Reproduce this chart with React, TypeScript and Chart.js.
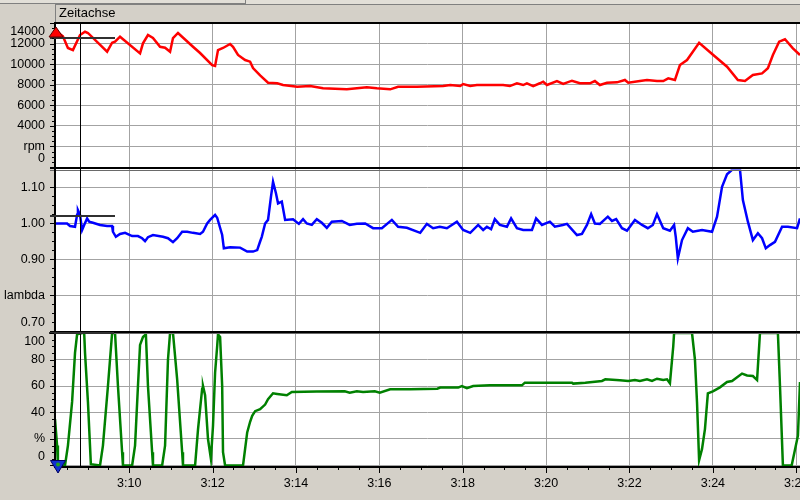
import React, { useEffect, useRef } from "react";
import { Chart, registerables } from "chart.js";

Chart.register(...registerables);

// ---------- data ----------
const X_MIN = 8.22;
const X_MAX = 26.09;
const timeTicks = [10, 12, 14, 16, 18, 20, 22, 24, 26];
const timeLabels = ["3:10", "3:12", "3:14", "3:16", "3:18", "3:20", "3:22", "3:24", "3:26"];

const rpmTime = [8.22, 8.41, 8.53, 8.65, 8.82, 8.94, 9.01, 9.47, 9.59, 9.66, 9.78, 10.26, 10.33, 10.45, 10.57, 10.74, 10.86, 10.98, 11.05, 11.17, 11.53, 11.7, 11.99, 12.06, 12.13, 12.25, 12.42, 12.49, 12.61, 12.78, 12.9, 12.97, 13.14, 13.33, 13.55, 13.69, 14.03, 14.34, 14.65, 15.22, 15.7, 15.94, 16.26, 16.45, 16.9, 17.53, 17.7, 17.94, 18.01, 18.18, 18.34, 18.66, 18.97, 19.13, 19.3, 19.45, 19.54, 19.69, 19.85, 19.93, 20.02, 20.26, 20.41, 20.62, 20.81, 21.05, 21.17, 21.29, 21.46, 21.7, 21.89, 21.97, 22.25, 22.42, 22.66, 22.81, 22.93, 23.09, 23.21, 23.38, 23.67, 24.01, 24.34, 24.6, 24.77, 24.96, 25.18, 25.32, 25.44, 25.59, 25.73, 25.92, 26.09];
const rpmValues = [13300, 12700, 11570, 11370, 12830, 13150, 13030, 11210, 12080, 12180, 12670, 11050, 12020, 12830, 12540, 11690, 11600, 11210, 12540, 13030, 11690, 11080, 9910, 9820, 11370, 11570, 11960, 11690, 10890, 10400, 10240, 9620, 8900, 8190, 8140, 7970, 7800, 7870, 7650, 7550, 7750, 7650, 7550, 7800, 7800, 7870, 7970, 7870, 8070, 7870, 7970, 7970, 7970, 7870, 8140, 7970, 8140, 7870, 8140, 8290, 7970, 8360, 8070, 8390, 8140, 8140, 8360, 7970, 8190, 8230, 8460, 8190, 8360, 8460, 8360, 8360, 8620, 8460, 9910, 10400, 12080, 10890, 9750, 8460, 8360, 8940, 9100, 9600, 10890, 12180, 12420, 11540, 10890];

const lambdaTime = [8.22, 8.51, 8.58, 8.7, 8.75, 8.77, 8.82, 8.87, 8.92, 8.99, 9.04, 9.13, 9.3, 9.47, 9.59, 9.61, 9.68, 9.78, 9.9, 10.07, 10.21, 10.31, 10.38, 10.45, 10.57, 10.81, 10.93, 11.05, 11.15, 11.27, 11.39, 11.53, 11.7, 11.77, 11.87, 11.94, 12.06, 12.11, 12.23, 12.27, 12.42, 12.66, 12.83, 12.97, 13.07, 13.14, 13.18, 13.26, 13.33, 13.4, 13.45, 13.52, 13.57, 13.66, 13.74, 13.93, 14.07, 14.17, 14.26, 14.38, 14.5, 14.62, 14.74, 14.86, 15.1, 15.29, 15.46, 15.66, 15.85, 16.06, 16.3, 16.45, 16.66, 16.98, 17.14, 17.29, 17.45, 17.62, 17.86, 18.01, 18.18, 18.37, 18.49, 18.58, 18.68, 18.77, 18.89, 19.06, 19.16, 19.3, 19.45, 19.66, 19.76, 19.9, 20.09, 20.21, 20.4, 20.5, 20.74, 20.86, 20.98, 21.08, 21.17, 21.29, 21.48, 21.58, 21.68, 21.82, 21.94, 22.13, 22.3, 22.44, 22.56, 22.66, 22.81, 22.97, 23.07, 23.11, 23.16, 23.26, 23.4, 23.52, 23.74, 23.98, 24.1, 24.22, 24.34, 24.46, 24.65, 24.72, 24.84, 24.96, 25.08, 25.18, 25.27, 25.37, 25.49, 25.66, 25.8, 26.02, 26.09];
const lambdaValues = [1.0, 1.0, 0.993, 0.991, 1.024, 1.037, 1.024, 0.982, 0.996, 1.014, 1.005, 1.002, 0.996, 0.993, 0.993, 0.977, 0.963, 0.971, 0.974, 0.965, 0.965, 0.959, 0.951, 0.962, 0.968, 0.963, 0.959, 0.948, 0.959, 0.977, 0.977, 0.974, 0.971, 0.977, 1.0, 1.01, 1.024, 1.016, 0.968, 0.931, 0.934, 0.933, 0.922, 0.922, 0.926, 0.95, 0.963, 1.0, 1.01, 1.074, 1.116, 1.084, 1.056, 1.061, 1.01, 1.012, 0.999, 1.012, 1.0, 0.996, 1.012, 1.002, 0.988, 1.005, 1.007, 0.996, 0.999, 1.0, 0.987, 0.987, 1.01, 0.991, 0.988, 0.974, 0.999, 0.987, 0.991, 0.987, 1.005, 0.982, 0.974, 0.996, 0.982, 0.991, 0.984, 1.012, 0.996, 0.991, 1.014, 0.987, 0.982, 0.982, 1.014, 0.996, 1.005, 0.991, 0.996, 0.999, 0.968, 0.971, 0.996, 1.026, 1.0, 0.999, 1.019, 1.007, 1.012, 0.987, 0.98, 1.01, 0.996, 0.987, 0.996, 1.026, 0.987, 0.98, 0.996, 0.963, 0.903, 0.954, 0.987, 0.977, 0.982, 0.977, 1.019, 1.102, 1.137, 1.149, 1.15, 1.065, 1.005, 0.954, 0.973, 0.959, 0.931, 0.94, 0.949, 0.991, 0.991, 0.987, 1.014];

const pctTime = [8.22, 8.27, 8.29, 8.46, 8.53, 8.63, 8.7, 8.75, 8.87, 8.92, 8.94, 9.01, 9.08, 9.3, 9.37, 9.49, 9.59, 9.66, 9.73, 9.83, 9.85, 10.07, 10.14, 10.21, 10.26, 10.33, 10.4, 10.45, 10.55, 10.57, 10.79, 10.86, 10.93, 10.98, 11.05, 11.15, 11.27, 11.29, 11.58, 11.65, 11.75, 11.77, 11.82, 11.89, 11.96, 12.01, 12.06, 12.11, 12.13, 12.18, 12.23, 12.25, 12.3, 12.73, 12.83, 12.9, 12.95, 13.02, 13.14, 13.26, 13.33, 13.45, 13.55, 13.78, 13.9, 14.5, 15.17, 15.29, 15.46, 15.61, 15.89, 16.01, 16.26, 16.74, 17.39, 17.46, 17.89, 17.98, 18.1, 18.25, 18.65, 19.42, 19.49, 20.09, 20.62, 20.65, 20.94, 21.34, 21.42, 21.77, 21.97, 22.13, 22.25, 22.42, 22.54, 22.66, 22.81, 22.9, 22.97, 23.05, 23.07, 23.5, 23.57, 23.62, 23.67, 23.74, 23.81, 23.88, 24.0, 24.17, 24.34, 24.46, 24.7, 24.82, 24.96, 25.06, 25.13, 25.56, 25.61, 25.68, 25.89, 26.04, 26.09];
const pctValues = [35, 15, 0, 0, 15, 48, 85, 99, 100, 100, 85, 48, 1, 0, 15, 60, 100, 100, 60, 10, 0, 0, 15, 60, 91, 97, 99, 60, 10, 0, 0, 15, 80, 100, 100, 65, 10, 0, 0, 27, 58, 60, 53, 20, 5, 30, 70, 90, 99, 97, 60, 10, 0, 0, 25, 33, 37.5, 41, 42.5, 46, 50, 54.5, 54, 53, 55.5, 55.8, 56, 55, 56, 55.5, 56, 55, 57.5, 57.5, 58, 58.8, 58.8, 60, 58.3, 60, 60.5, 60.5, 62.5, 62.5, 62.5, 61.8, 62.5, 63.8, 65, 64.3, 63.8, 64.5, 63.8, 65, 63.8, 65.5, 64.5, 65, 62, 90, 100, 100, 80, 47.5, 4, 12.5, 27.5, 54.5, 56, 59, 63, 63.8, 69.4, 68, 67.5, 64.5, 100, 100, 60, 0, 0, 22.5, 63];

const rpmTicks = [0, 2000, 4000, 6000, 8000, 10000, 12000, 14000];
const rpmTickLabels = ["0", "rpm", "4000", "6000", "8000", "10000", "12000", "14000"];
const lambdaTicks = [0.7, 0.8, 0.9, 1.0, 1.1];
const lambdaTickLabels = ["0.70", "lambda", "0.90", "1.00", "1.10"];
const pctTicks = [0, 20, 40, 60, 80, 100];
const pctTickLabels = ["0", "%", "40", "60", "80", "100"];

const cursorTime = 8.82;
const cursorRpm = 12570;
const cursorLambda = 1.021;
const cursorPct = 100;

const headerTitle = "Zeitachse";

// ---------- helpers ----------
const FONT = '12.5px "Liberation Sans", Arial, sans-serif';
const HEADER_FONT = '13px "Liberation Sans", Arial, sans-serif';
const zip = (xs: number[], ys: number[]) => xs.map((x, i) => ({ x, y: ys[i] }));

const yScale = (
  min: number,
  max: number,
  ticks: number[],
  stackWeight: number,
  weight: number
) => ({
  type: "linear" as const,
  position: "left" as const,
  stack: "panels",
  stackWeight,
  weight,
  min,
  max,
  afterBuildTicks: (scale: any) => {
    scale.ticks = ticks.map((v) => ({ value: v }));
  },
  afterFit: (scale: any) => {
    scale.width = 55;
  },
  grid: { color: "#a3a3a3", lineWidth: 1, drawTicks: false },
  border: { display: false },
  ticks: { display: false },
});

const decorPlugin = {
  id: "decor",
  beforeDraw(chart: any) {
    const { ctx, chartArea: ca, width, height } = chart;
    ctx.save();
    ctx.fillStyle = "#d4d0c8";
    ctx.fillRect(0, 0, width, height);
    ctx.fillStyle = "#ffffff";
    ctx.fillRect(ca.left, ca.top, ca.right - ca.left, ca.bottom - ca.top);
    // header bar
    ctx.fillStyle = "#e2dfd8";
    ctx.fillRect(0, 0, width, 4);
    ctx.fillStyle = "#808080";
    ctx.fillRect(0, 3, 246, 1);
    ctx.fillRect(245, 0, 1, 4);
    ctx.fillRect(55, 4, width - 55, 1);
    ctx.fillRect(55, 4, 1, 19);
    ctx.fillStyle = "#000";
    ctx.font = HEADER_FONT;
    ctx.textAlign = "left";
    ctx.textBaseline = "middle";
    ctx.fillText(headerTitle, 59, 13.5);
    ctx.restore();
  },
  afterDraw(chart: any) {
    const { ctx, chartArea: ca, scales } = chart;
    const x = scales.x;
    const y1 = scales.yRpm;
    const y2 = scales.yLambda;
    const y3 = scales.yPct;
    ctx.save();

    // panel borders
    ctx.fillStyle = "#000";
    ctx.fillRect(54, 22, ca.right - 54, 2);
    ctx.fillRect(50, 167, ca.right - 50, 2);
    ctx.fillStyle = "#6a6a6a";
    ctx.fillRect(50, 170, ca.right - 50, 1);
    ctx.fillStyle = "#000";
    ctx.fillRect(50, 331, ca.right - 50, 2);
    ctx.fillStyle = "#6a6a6a";
    ctx.fillRect(50, 333, ca.right - 50, 1);

    // y axis line
    ctx.fillStyle = "#000";
    ctx.fillRect(54, 23, 2, ca.bottom - 23);
    // x axis line
    ctx.fillRect(54, ca.bottom, ca.right - 54, 2);

    // cursor
    const cx = Math.round(x.getPixelForValue(cursorTime));
    ctx.fillStyle = "#000";
    ctx.fillRect(cx, 23, 1, ca.bottom - 23);
    ctx.fillStyle = "#303030";
    ctx.fillRect(50, Math.round(y1.getPixelForValue(cursorRpm)) - 1, 65, 2);
    ctx.fillRect(50, Math.round(y2.getPixelForValue(cursorLambda)) - 1, 65, 2);
    ctx.fillRect(49, Math.round(y3.getPixelForValue(cursorPct)) - 1, 65, 2);

    // y ticks + labels
    ctx.font = FONT;
    ctx.textAlign = "right";
    ctx.textBaseline = "middle";
    const drawAxis = (
      scale: any,
      ticks: number[],
      labels: string[],
      top: number,
      bottom: number
    ) => {
      const step = ticks[1] - ticks[0];
      const minor = step / 4;
      ctx.fillStyle = "#000";
      for (let v = ticks[0]; v <= ticks[ticks.length - 1] + 1e-9; v += minor) {
        const py = Math.round(scale.getPixelForValue(v));
        const isMajor = Math.abs(((v - ticks[0]) / step) - Math.round((v - ticks[0]) / step)) < 1e-6;
        ctx.fillRect(isMajor ? 50 : 52, py, isMajor ? 4 : 2, 1);
      }
      ticks.forEach((v, i) => {
        let py = scale.getPixelForValue(v);
        py = Math.max(top + 8.5, Math.min(bottom - 8.5, py));
        ctx.fillText(labels[i], 45, py);
      });
    };
    drawAxis(y1, rpmTicks, rpmTickLabels, y1.getPixelForValue(14000), y1.getPixelForValue(0));
    drawAxis(y2, lambdaTicks, lambdaTickLabels, y2.top, y2.getPixelForValue(0.7));
    drawAxis(y3, pctTicks, pctTickLabels, y3.getPixelForValue(100), y3.getPixelForValue(0));

    // x ticks + labels
    ctx.fillStyle = "#000";
    for (let t = 8.5; t <= X_MAX; t += 0.5) {
      const px = Math.round(x.getPixelForValue(t));
      const major = timeTicks.some((m) => Math.abs(m - t) < 1e-6);
      ctx.fillRect(px, ca.bottom + 2, 1, major ? 5 : 2);
    }
    ctx.textAlign = "center";
    timeTicks.forEach((t, i) => {
      ctx.fillText(timeLabels[i], x.getPixelForValue(t), 483.5);
    });

    // markers
    ctx.fillStyle = "#ff0000";
    ctx.strokeStyle = "#600000";
    ctx.lineWidth = 1;
    ctx.beginPath();
    ctx.moveTo(56, 27);
    ctx.lineTo(63, 37);
    ctx.lineTo(49, 37);
    ctx.closePath();
    ctx.fill();
    ctx.stroke();

    ctx.fillStyle = "#1030d0";
    ctx.strokeStyle = "#000060";
    ctx.beginPath();
    ctx.moveTo(50.5, 460.5);
    ctx.lineTo(65.5, 460.5);
    ctx.lineTo(58, 473);
    ctx.closePath();
    ctx.fill();
    ctx.stroke();
    ctx.fillStyle = "#20a020";
    ctx.beginPath();
    ctx.arc(58, 464.5, 2, 0, Math.PI * 2);
    ctx.fill();

    ctx.restore();
  },
};

export default function App() {
  const ref = useRef<HTMLCanvasElement | null>(null);

  useEffect(() => {
    if (!ref.current) return;
    const chart = new Chart(ref.current, {
      type: "line",
      data: {
        datasets: [
          {
            data: zip(rpmTime, rpmValues),
            yAxisID: "yRpm",
            borderColor: "#ff0000",
            borderWidth: 2.5,
            pointRadius: 0,
            tension: 0,
          },
          {
            data: zip(lambdaTime, lambdaValues),
            yAxisID: "yLambda",
            borderColor: "#0000ff",
            borderWidth: 2.5,
            pointRadius: 0,
            tension: 0,
          },
          {
            data: zip(pctTime, pctValues),
            yAxisID: "yPct",
            borderColor: "#008000",
            borderWidth: 2.5,
            pointRadius: 0,
            tension: 0,
          },
        ],
      },
      options: {
        responsive: false,
        animation: false,
        events: [],
        layout: { padding: { top: 23, left: 0, right: 0, bottom: 0 } },
        plugins: { legend: { display: false }, tooltip: { enabled: false } },
        scales: {
          x: {
            type: "linear",
            min: X_MIN,
            max: X_MAX,
            afterBuildTicks: (scale: any) => {
              scale.ticks = timeTicks.map((v) => ({ value: v }));
            },
            afterFit: (scale: any) => {
              scale.height = 34;
            },
            grid: { color: "#a3a3a3", lineWidth: 1, drawTicks: false },
            border: { display: false },
            ticks: { display: false },
          },
          yRpm: yScale(-243, 14000, rpmTicks, 146.5, 3),
          yLambda: yScale(0.6972, 1.15, lambdaTicks, 163, 2),
          yPct: yScale(-0.38, 100.38, pctTicks, 133.5, 1),
        },
      },
      plugins: [decorPlugin],
    } as any);
    return () => chart.destroy();
  }, []);

  return (
    <div style={{ position: "fixed", left: 0, top: 0, width: 800, height: 500 }}>
      <canvas ref={ref} width={800} height={500} style={{ display: "block" }} />
    </div>
  );
}
